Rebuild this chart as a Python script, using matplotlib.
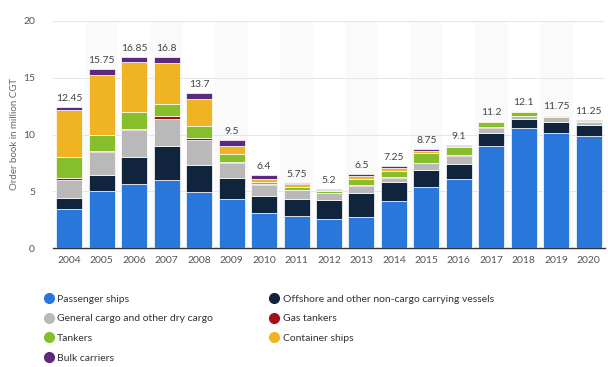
import numpy as np
import matplotlib.pyplot as plt
from matplotlib.lines import Line2D

plt.rcParams['font.family'] = ['Lato', 'DejaVu Sans']

years = ['2004', '2005', '2006', '2007', '2008', '2009', '2010', '2011', '2012',
         '2013', '2014', '2015', '2016', '2017', '2018', '2019', '2020']
totals = [12.45, 15.75, 16.85, 16.8, 13.7, 9.5, 6.4, 5.75, 5.2,
          6.5, 7.25, 8.75, 9.1, 11.2, 12.1, 11.75, 11.25]

passenger = [3.45, 5.0, 5.6, 6.0, 4.9, 4.3, 3.05, 2.8, 2.55, 2.75, 4.15, 5.4, 6.05, 8.95, 10.55, 10.15, 9.9]
offshore = [0.95, 1.4, 2.4, 3.0, 2.45, 1.9, 1.55, 1.5, 1.65, 2.1, 1.65, 1.5, 1.35, 1.15, 0.85, 0.95, 0.9]
general = [1.6, 2.1, 2.4, 2.4, 2.2, 1.3, 0.95, 0.8, 0.65, 0.65, 0.4, 0.55, 0.7, 0.5, 0.2, 0.45, 0.3]
gas = [0.2, 0.05, 0.05, 0.2, 0.15, 0.05, 0.05, 0.05, 0.03, 0.05, 0.05, 0.05, 0.05, 0.02, 0.02, 0.02, 0.02]
tankers = [1.85, 1.45, 1.5, 1.1, 1.05, 0.75, 0.25, 0.25, 0.12, 0.55, 0.5, 0.9, 0.75, 0.5, 0.4, 0.1, 0.05]
container = [4.1, 5.2, 4.4, 3.6, 2.35, 0.7, 0.25, 0.2, 0.15, 0.25, 0.3, 0.15, 0.05, 0.03, 0.03, 0.03, 0.03]
bulk = [0.3, 0.55, 0.5, 0.5, 0.6, 0.5, 0.3, 0.15, 0.05, 0.15, 0.2, 0.2, 0.15, 0.05, 0.05, 0.05, 0.05]

series = [
    ('Passenger ships', passenger, '#2a77dc'),
    ('Offshore and other non-cargo carrying vessels', offshore, '#10243d'),
    ('General cargo and other dry cargo', general, '#b9b9b9'),
    ('Gas tankers', gas, '#a80f14'),
    ('Tankers', tankers, '#86bf2b'),
    ('Container ships', container, '#f0b323'),
    ('Bulk carriers', bulk, '#5b2a80'),
]

fig = plt.figure(figsize=(6.08, 3.67), dpi=100)
ax = fig.add_axes([53 / 608, 1 - 248 / 367, 552 / 608, 227 / 367])

x = np.arange(len(years))

# very faint alternating column bands
for i in x:
    if i % 2 == 1:
        ax.axvspan(i - 0.5, i + 0.5, color='#fafafa', zorder=0, lw=0)

bottom = np.zeros(len(years))
for name, vals, col in series:
    ax.bar(x, vals, 0.8, bottom=bottom, color=col, edgecolor='white',
           linewidth=0.5, zorder=3, label=name)
    bottom += np.array(vals)

for i, t in enumerate(totals):
    ax.text(i, bottom[i] + 0.35, f'{t:g}', ha='center', va='bottom',
            fontsize=7.5, color='#444444', zorder=4)

ax.set_xlim(-0.5, len(years) - 0.5)
ax.set_ylim(0, 20)
ax.set_yticks([0, 5, 10, 15, 20])
ax.set_xticks(x)
ax.set_xticklabels(years)
ax.grid(axis='y', color='#e6e6e6', linewidth=0.7, zorder=1)
ax.tick_params(axis='both', length=0, labelsize=7.5, colors='#555555')
ax.tick_params(axis='y', pad=13)
ax.tick_params(axis='x', pad=6)
for s in ['top', 'right', 'left']:
    ax.spines[s].set_visible(False)
ax.spines['bottom'].set_color('#333333')
ax.spines['bottom'].set_linewidth(1.0)
ax.set_ylabel('Order book in million CGT', fontsize=7, color='#666666')
ax.yaxis.set_label_coords(-0.062, 0.5)

# legend: two columns, first column read down
order = [0, 2, 4, 6, 1, 3, 5]
handles = [Line2D([], [], marker='o', linestyle='', markersize=7,
                  markerfacecolor=series[k][2], markeredgecolor=series[k][2])
           for k in order]
labels = [series[k][0] for k in order]
fig.legend(handles, labels, ncol=2, loc='upper left',
           bbox_to_anchor=(34 / 608, 1 - 285 / 367), frameon=False,
           fontsize=7.5, columnspacing=5.4, handletextpad=0.3,
           labelspacing=1.0, handlelength=1.0, labelcolor='#333333')

fig.savefig('out.png', dpi=100)
